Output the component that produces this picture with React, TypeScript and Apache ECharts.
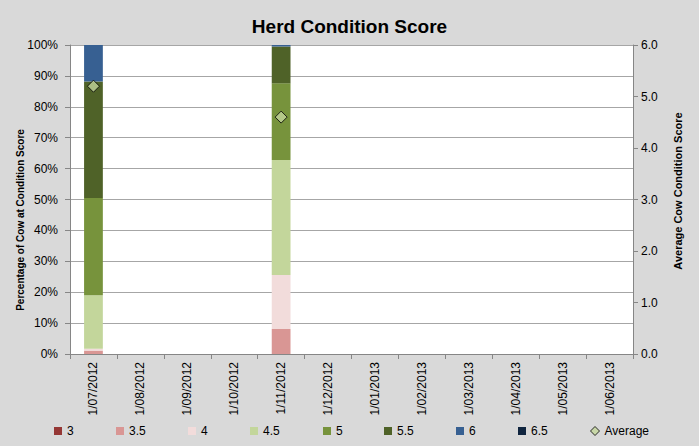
import React, { useEffect, useRef } from "react";
import * as echarts from "echarts";

const categories = [
  "1/07/2012", "1/08/2012", "1/09/2012", "1/10/2012", "1/11/2012", "1/12/2012",
  "1/01/2013", "1/02/2013", "1/03/2013", "1/04/2013", "1/05/2013", "1/06/2013",
];
const scoreNames = ["3", "3.5", "4", "4.5", "5", "5.5", "6", "6.5"];
const score3 = [0, null, null, null, 0, null, null, null, null, null, null, null];
const score35 = [1.1, null, null, null, 8.1, null, null, null, null, null, null, null];
const score4 = [0.6, null, null, null, 17.5, null, null, null, null, null, null, null];
const score45 = [17.3, null, null, null, 37.2, null, null, null, null, null, null, null];
const score5 = [31.5, null, null, null, 24.8, null, null, null, null, null, null, null];
const score55 = [37.7, null, null, null, 11.9, null, null, null, null, null, null, null];
const score6 = [11.8, null, null, null, 0.5, null, null, null, null, null, null, null];
const score65 = [0, null, null, null, 0, null, null, null, null, null, null, null];
const average = [5.2, null, null, null, 4.6, null, null, null, null, null, null, null];
const leftTicks = [0, 100, 10];
const rightTicks = [0, 6, 1];

const colors = ["#953735", "#d99694", "#f2dcdb", "#c3d69b", "#77933c", "#4f6228", "#376092", "#10253f"];
const legendLefts = [54, 116, 188, 250, 323, 384, 456, 518];

export default function App() {
  const ref = useRef<HTMLDivElement>(null);
  useEffect(() => {
    if (!ref.current) return;
    const chart = echarts.init(ref.current, null, { renderer: "svg" });
    const font = "Liberation Sans";
    const seriesData = [score3, score35, score4, score45, score5, score55, score6, score65];
    const barSeries = scoreNames.map((n, i) => ({
      name: n,
      type: "bar",
      stack: "s",
      barWidth: "40%",
      data: seriesData[i],
      itemStyle: { color: colors[i] },
      yAxisIndex: 0,
    }));
    const legends: any[] = scoreNames.map((n, i) => ({
      data: [n],
      left: legendLefts[i],
      top: 425,
      padding: 0,
      itemWidth: 8,
      itemHeight: 8,
      icon: "rect",
      itemGap: 0,
      textStyle: { fontFamily: font, fontSize: 12, color: "#000" },
    }));
    legends.push({
      data: [{ name: "Average", icon: "diamond", itemStyle: { color: "#c3d69b", borderColor: "#000", borderWidth: 1 } }],
      left: 590,
      top: 425,
      padding: 0,
      itemWidth: 9,
      itemHeight: 9,
      textStyle: { fontFamily: font, fontSize: 12, color: "#000" },
    });
    chart.setOption({
      animation: false,
      backgroundColor: "#d9d9d9",
      title: {
        text: "Herd Condition Score",
        left: "center",
        top: 17,
        padding: 0,
        textStyle: { fontFamily: font, fontSize: 19, fontWeight: "bold", color: "#000" },
      },
      legend: legends,
      graphic: [
        {
          type: "text",
          x: 20,
          y: 220,
          rotation: Math.PI / 2,
          style: {
            text: "Percentage of Cow at Condition Score",
            fontFamily: font,
            fontSize: 10,
            fontWeight: "bold",
            fill: "#000",
            align: "center",
            verticalAlign: "middle",
          },
        },
        {
          type: "text",
          x: 678,
          y: 191,
          rotation: Math.PI / 2,
          style: {
            text: "Average Cow Condition Score",
            fontFamily: font,
            fontSize: 11,
            fontWeight: "bold",
            fill: "#000",
            align: "center",
            verticalAlign: "middle",
          },
        },
      ],
      grid: {
        left: 70,
        right: 66,
        top: 45,
        bottom: 92,
        show: true,
        backgroundColor: "#ffffff",
        borderWidth: 0,
      },
      xAxis: {
        type: "category",
        data: categories,
        axisLine: { show: true, lineStyle: { color: "#868686" } },
        axisTick: { show: true, length: 5, lineStyle: { color: "#868686" } },
        axisLabel: { rotate: 90, fontFamily: font, fontSize: 12, color: "#000", margin: 8 },
      },
      yAxis: [
        {
          type: "value",
          min: leftTicks[0],
          max: leftTicks[1],
          interval: leftTicks[2],
          axisLine: { show: true, lineStyle: { color: "#868686" } },
          axisTick: { show: true, length: 5, lineStyle: { color: "#868686" } },
          axisLabel: { formatter: "{value}%", fontFamily: font, fontSize: 12, color: "#000", margin: 12 },
          splitLine: { show: true, lineStyle: { color: "#a6a6a6" } },
        },
        {
          type: "value",
          position: "right",
          min: rightTicks[0],
          max: rightTicks[1],
          interval: rightTicks[2],
          axisLine: { show: true, lineStyle: { color: "#868686" } },
          axisTick: { show: true, length: 5, lineStyle: { color: "#868686" } },
          axisLabel: { formatter: (v: number) => v.toFixed(1), fontFamily: font, fontSize: 12, color: "#000", margin: 8 },
          splitLine: { show: false },
        },
      ],
      series: [
        ...barSeries,
        {
          name: "Average",
          type: "scatter",
          yAxisIndex: 1,
          data: average,
          symbol: "diamond",
          symbolSize: 12,
          itemStyle: { color: "#c3d69b", borderColor: "#000", borderWidth: 1 },
          z: 5,
        },
      ],
    });
    return () => chart.dispose();
  }, []);
  return <div ref={ref} style={{ position: "fixed", left: 0, top: 0, width: 699, height: 446 }} />;
}
